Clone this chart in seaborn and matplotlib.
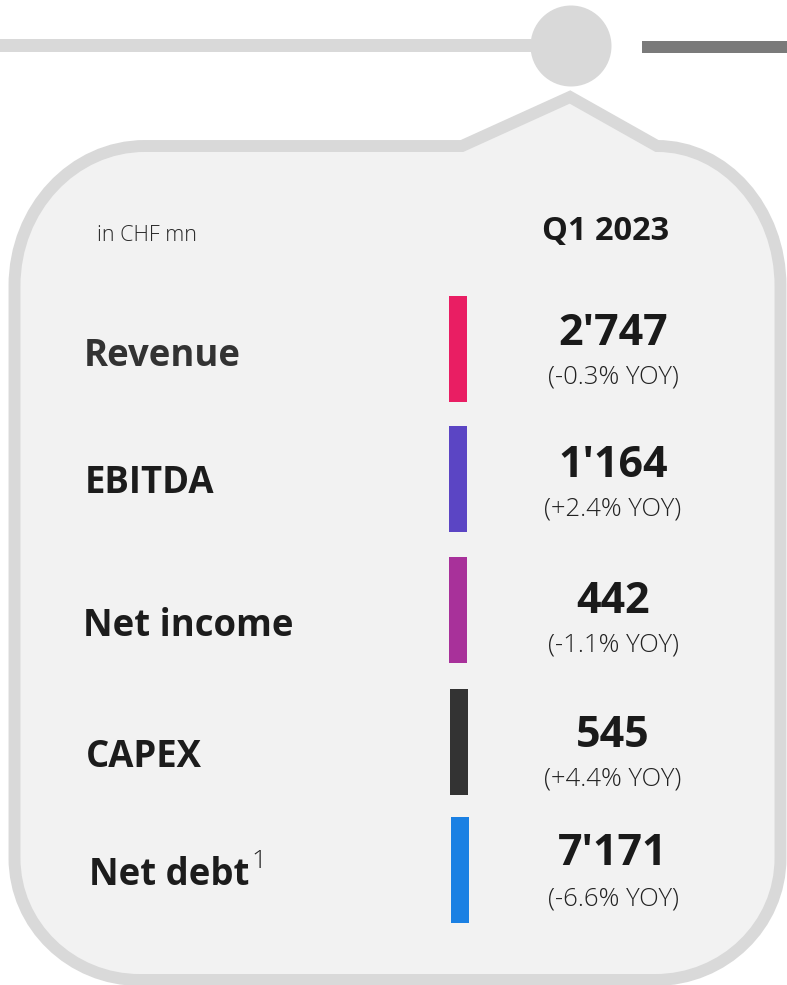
import matplotlib
matplotlib.use("Agg")
import matplotlib.pyplot as plt
import seaborn as sns
import pandas as pd
from matplotlib.path import Path
from matplotlib.patches import PathPatch, Rectangle, Circle

# ---------------- data ----------------
metrics = ["Revenue", "EBITDA", "Net income", "CAPEX", "Net debt"]
values = [2747, 1164, 442, 545, 7171]
yoy_pct = [-0.3, 2.4, -1.1, 4.4, -6.6]
bar_colors = ["#E91E63", "#5B45C4", "#A8319A", "#333333", "#1A80E3"]
period_label = "Q1 2023"
unit_label = "in CHF mn"
footnote_mark = "1"

df = pd.DataFrame({"metric": metrics, "value": values, "yoy": yoy_pct, "color": bar_colors})

# ---------------- layout (pixel coordinates) ----------------
W, H = 787, 985
bar_x = [457.5, 457.5, 457.5, 458.5, 460.0]
bar_top = [296, 426, 557, 689, 817]
bar_len = 106
bar_w = 18
label_x = [84, 85, 83, 86, 89]
label_base = [366, 493, 636, 767, 885]
value_x = 613
value_base = [345, 477, 613, 747, 865]
yoy_base = [383, 515, 652, 785, 906]

sns.set_theme(style="white")
plt.rcParams["font.family"] = ["Open Sans", "DejaVu Sans"]

fig = plt.figure(figsize=(W / 100, H / 100), dpi=100)
fig.patch.set_facecolor("white")
ax = fig.add_axes([0, 0, 1, 1])
ax.set_xlim(0, W)
ax.set_ylim(H, 0)
ax.axis("off")

# top timeline decoration
ax.add_patch(Rectangle((0, 39), 531, 13, color="#D9D9D9", lw=0))
ax.add_patch(Rectangle((642, 41), 145, 12, color="#7A7A7A", lw=0))
ax.add_patch(Circle((571, 46), 40.5, color="#D9D9D9", lw=0))

# callout box
L, R, T, B = 14.5, 780.5, 146, 980
k = 0.5523


def corner(p0, c, p3):
    p1 = (p0[0] + k * (c[0] - p0[0]), p0[1] + k * (c[1] - p0[1]))
    p2 = (p3[0] + k * (c[0] - p3[0]), p3[1] + k * (c[1] - p3[1]))
    return [p1, p2, p3]


verts = [(145, T), (462, T), (570, 97), (657, T)]
codes = [Path.MOVETO, Path.LINETO, Path.LINETO, Path.LINETO]
verts += corner((657, T), (R, T), (R, 286)); codes += [Path.CURVE4] * 3
verts += [(R, 858)]; codes += [Path.LINETO]
verts += corner((R, 858), (R, B), (655, B)); codes += [Path.CURVE4] * 3
verts += [(140, B)]; codes += [Path.LINETO]
verts += corner((140, B), (L, B), (L, 858)); codes += [Path.CURVE4] * 3
verts += [(L, 286)]; codes += [Path.LINETO]
verts += corner((L, 286), (L, T), (145, T)); codes += [Path.CURVE4] * 3
verts += [(145, T)]; codes += [Path.CLOSEPOLY]
ax.add_patch(PathPatch(Path(verts, codes), facecolor="#F2F2F2", edgecolor="#D9D9D9",
                       lw=8.6, joinstyle="miter"))

# header texts
ax.text(97, 241, unit_label, fontsize=15.5, fontweight="light", color="#2A2A2A",
        ha="left", va="baseline")
ax.text(606, 240, period_label, fontsize=23.5, fontweight="bold", color="#1A1A1A",
        ha="center", va="baseline")

# bars
ax.bar(bar_x, [bar_len] * len(df), bottom=bar_top, width=bar_w, color=df["color"], lw=0)

for i, row in df.iterrows():
    lab_color = "#333333" if i == 0 else "#1C1C1C"
    ax.text(label_x[i], label_base[i], row["metric"], fontsize=26.3, fontweight="bold",
            color=lab_color, ha="left", va="baseline")
    ax.text(value_x, value_base[i], f"{row['value']:,}".replace(",", "'"), fontsize=31,
            fontweight="bold", color="#1A1A1A", ha="center", va="baseline")
    ax.text(value_x, yoy_base[i], f"({row['yoy']:+.1f}% YOY)", fontsize=18.5,
            fontweight="light", color="#222222", ha="center", va="baseline")

ax.text(251, 868, footnote_mark, fontsize=19, fontweight="light", color="#222222",
        ha="left", va="baseline")

fig.savefig("out.png", dpi=100, facecolor="white")
